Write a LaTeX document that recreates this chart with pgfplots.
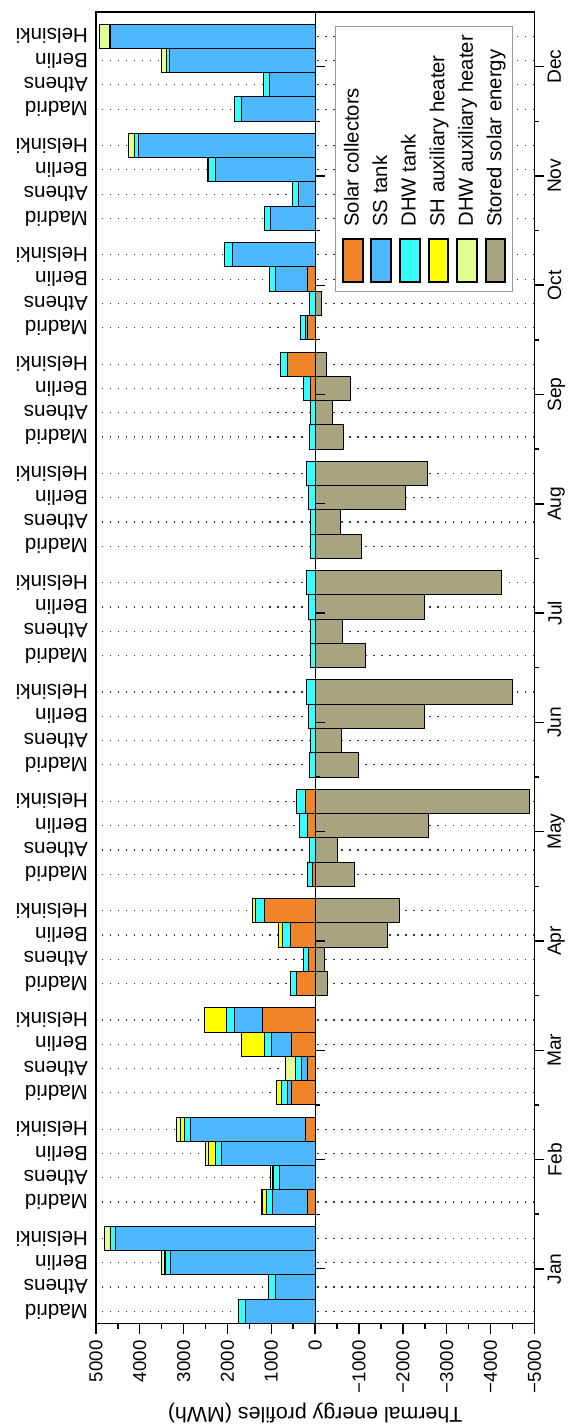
\documentclass[border=0pt]{standalone}
\usepackage{fontspec}
\setmainfont{Liberation Sans}
\usepackage{pgfplots}
\usepackage{pgfplotstable}
\pgfplotsset{compat=1.18}

\definecolor{cSC}{RGB}{239,132,41}
\definecolor{cSS}{RGB}{77,184,255}
\definecolor{cDHW}{RGB}{51,255,255}
\definecolor{cSH}{RGB}{255,255,0}
\definecolor{cDA}{RGB}{224,255,144}
\definecolor{cST}{RGB}{168,164,127}

\newcommand{\chartfont}{\fontsize{10.15pt}{12pt}\selectfont}
\newcommand{\cityfont}{\fontsize{10.3pt}{12pt}\selectfont}
\newcommand{\tickfont}{\fontsize{9.35pt}{11pt}\selectfont}
\newcommand{\monthfont}{\fontsize{9.6pt}{11pt}\selectfont}
\newcommand{\labelfont}{\fontsize{10.7pt}{12.5pt}\selectfont}

% Monthly thermal energy balance (MWh) per city; bars placed 4.5 units per month
\pgfplotstableread{
pos   city      sc    ss    dhw  shaux dhwaux stored
0     Madrid    0     1597  160  0     0      0
1     Athens    0     905   152  0     0      0
2     Berlin    0     3300  114  20    70     0
3     Helsinki  0     4562  106  0     137    0
4.5   Madrid    175   798   137  99    20     0
5.5   Athens    0     813   137  20    40     0
6.5   Berlin    0     2136  137  160   68     0
7.5   Helsinki  213   2630  144  84    91     0
9     Madrid    540   83    141  108   0      0
10    Athens    166   141   150  0     224    0
11    Berlin    540   457   158  532   0      0
12    Helsinki  1204  640   174  498   0      0
13.5  Madrid    415   0     150  0     0      -291
14.5  Athens    141   0     133  0     0      -224
15.5  Berlin    564   0     174  91    0      -1643
16.5  Helsinki  1154  0     199  66    0      -1926
18    Madrid    58    0     125  0     0      -888
19    Athens    0     0     133  0     0      -515
20    Berlin    166   0     183  0     0      -2583
21    Helsinki  224   0     208  0     0      -4884
22.5  Madrid    0     0     125  0     0      -997
23.5  Athens    0     0     116  0     0      -606
24.5  Berlin    0     0     141  0     0      -2500
25.5  Helsinki  0     0     190  0     0      -4500
27    Madrid    0     0     114  0     0      -1148
28    Athens    0     0     106  0     0      -623
29    Berlin    0     0     152  0     0      -2501
30    Helsinki  0     0     190  0     0      -4241
31.5  Madrid    0     0     106  0     0      -1064
32.5  Athens    0     0     106  0     0      -585
33.5  Berlin    0     0     152  0     0      -2060
34.5  Helsinki  0     0     190  0     0      -2561
36    Madrid    0     0     137  0     0      -646
37    Athens    0     0     106  0     0      -403
38    Berlin    114   0     144  0     0      -806
39    Helsinki  631   0     160  0     0      -251
40.5  Madrid    182   30    114  0     0      0
41.5  Athens    0     0     129  0     0      -144
42.5  Berlin    182   714   152  0     0      0
43.5  Helsinki  0     1885  175  0     0      0
45    Madrid    0     1011  137  0     0      0
46    Athens    0     380   137  0     0      0
47    Berlin    0     2280  152  0     23     0
48    Helsinki  0     4036  91   0     122    0
49.5  Madrid    0     1680  167  0     0      0
50.5  Athens    0     1049  137  0     0      0
51.5  Berlin    0     3314  84   0     114    0
52.5  Helsinki  0     4666  30   0     228    0
}\energy

\pgfplotsset{
  energy frame/.style={
    width=656.5pt, height=219.5pt, scale only axis,
    xmin=-0.5, xmax=53.5, ymin=-5000, ymax=5000,
    enlargelimits=false, clip=false,
  },
  patch legend/.style={
    legend image code/.code={%
      \draw[##1, line width=1pt] (0pt,-4.95pt) rectangle (21.5pt,4.95pt);}
  },
  month ticks/.style={
    xtick={1.75,6.25,10.75,15.25,19.75,24.25,28.75,33.25,37.75,42.25,46.75,51.25},
    minor xtick={4,8.5,13,17.5,22,26.5,31,35.5,40,44.5,49},
    tick align=outside, major tick length=5pt, minor tick length=2.5pt,
  },
}

\begin{document}
\begin{tikzpicture}[rotate=90, transform shape]
% stacked supply components (positive side) with city labels and value axis
\begin{axis}[energy frame,
  ybar stacked, bar width=1,
  axis line style={line width=0.75pt},
  xtick=data, xticklabels from table={\energy}{city},
  xtick pos=right, xticklabel pos=right,
  xtick style={draw=none},
  xticklabel shift=-1.5pt,
  xticklabel style={rotate=90, anchor=west, inner xsep=0.3pt, font=\cityfont},
  xmajorgrids,
  major grid style={black!80, line width=0.6pt, dash pattern=on 0.6pt off 3.4pt},
  ytick={-5000,-4000,...,5000},
  yticklabels={−5000,−4000,−3000,−2000,−1000,0,1000,2000,3000,4000,5000},
  minor y tick num=1, ytick pos=left,
  tick align=outside, major tick length=5pt, minor tick length=2.5pt,
  ytick style={line width=0.75pt, black},
  yticklabel style={font=\tickfont},
  ylabel={Thermal energy profiles (MWh)},
  ylabel style={font=\labelfont, inner sep=1.5pt},
]
\addplot[fill=cSC, draw=black, line width=0.5pt] table[x=pos, y=sc] {\energy};
\addplot[fill=cSS, draw=black, line width=0.5pt] table[x=pos, y=ss] {\energy};
\addplot[fill=cDHW, draw=black, line width=0.5pt] table[x=pos, y=dhw] {\energy};
\addplot[fill=cSH, draw=black, line width=0.5pt] table[x=pos, y=shaux] {\energy};
\addplot[fill=cDA, draw=black, line width=0.5pt] table[x=pos, y=dhwaux] {\energy};
\end{axis}

% stored solar energy (negative side), month labels and legend
\begin{axis}[energy frame,
  ybar, bar width=1,
  hide y axis,
  axis line style={line width=0.75pt},
  month ticks,
  xtick pos=left, xticklabel pos=left,
  xticklabels={Jan,Feb,Mar,Apr,May,Jun,Jul,Aug,Sep,Oct,Nov,Dec},
  xticklabel style={font=\monthfont, inner ysep=1.5pt},
  tick style={line width=0.75pt, black},
  legend entries={Solar collectors, SS tank, DHW tank, SH auxiliary heater,
    DHW auxiliary heater, Stored solar energy},
  legend cell align=left,
  legend style={at={(0.9896,0.0478)}, anchor=south east,
    draw=black!40, line width=0.6pt, fill=white,
    inner xsep=4.4pt, inner ysep=3.2pt, row sep=3.4pt, column sep=5.6pt,
    nodes={inner sep=0pt}, font=\chartfont},
]
\addlegendimage{fill=cSC, draw=black, patch legend}
\addlegendimage{fill=cSS, draw=black, patch legend}
\addlegendimage{fill=cDHW, draw=black, patch legend}
\addlegendimage{fill=cSH, draw=black, patch legend}
\addlegendimage{fill=cDA, draw=black, patch legend}
\addplot[fill=cST, draw=black, line width=0.5pt, patch legend]
  table[x=pos, y=stored] {\energy};
\end{axis}

% zero line carrying the month ticks
\begin{axis}[energy frame,
  axis y line=none, axis x line=middle,
  axis line style={-, line width=0.6pt},
  month ticks, xticklabels={},
  tick style={line width=0.6pt, black},
]
\end{axis}

\path (current axis.north east) ++(6pt,48pt);
\end{tikzpicture}
\end{document}
